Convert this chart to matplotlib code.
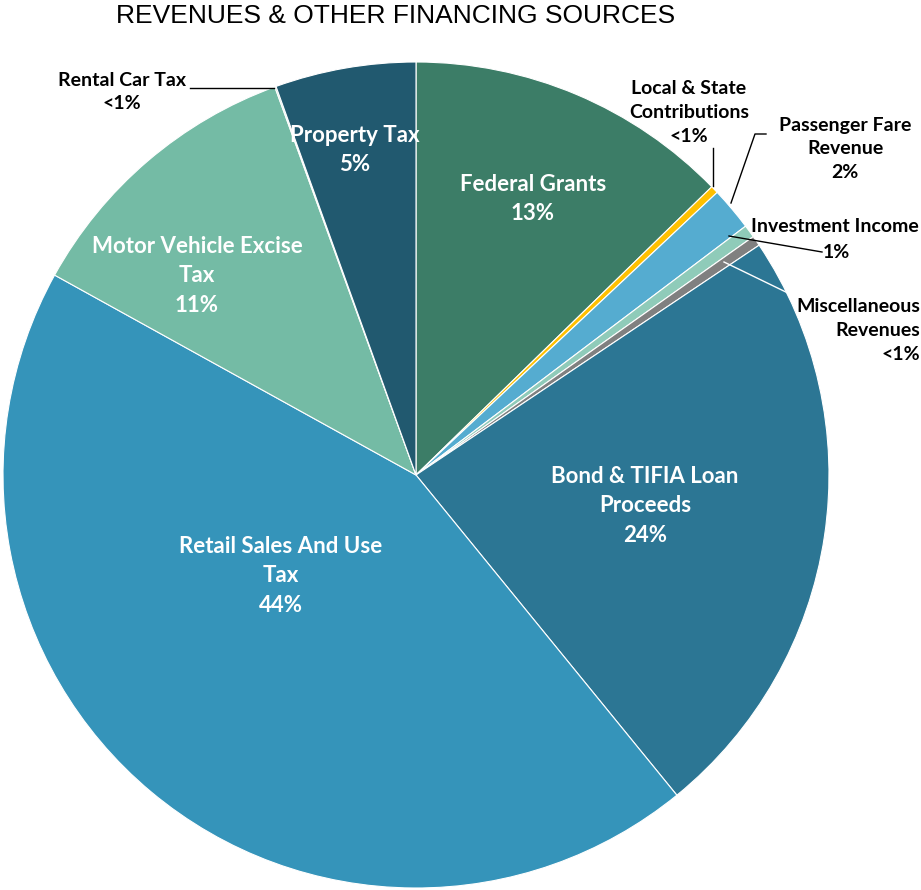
import matplotlib
matplotlib.use("Agg")
import matplotlib.pyplot as plt

# slice data, clockwise from 12 o'clock
labels = ["Federal Grants", "Local & State Contributions", "Passenger Fare Revenue",
          "Investment Income", "Miscellaneous Revenues", "Bond & TIFIA Loan Proceeds",
          "Retail Sales And Use Tax", "Motor Vehicle Excise Tax", "Rental Car Tax", "Property Tax"]
shares = [12.7, 0.3, 1.7, 0.5, 0.4, 23.5, 43.9, 11.4, 0.05, 5.5]
colors = ["#3c7d67", "#ffc000", "#55acd0", "#8fcbb9", "#808080", "#2c7694",
          "#3594ba", "#74bba5", "#5aa58e", "#21596f"]

W, H = 921, 890
fig = plt.figure(figsize=(W / 100, H / 100), dpi=100)
ax = fig.add_axes([0, 0, 1, 1])

# pie in pixel coords (y up)
cx, cy, r = 416, H - 475, 413
ax.pie(shares, colors=colors, startangle=90, counterclock=False, center=(cx, cy),
       radius=r, wedgeprops=dict(edgecolor="white", linewidth=0.8), frame=True)
ax.set_xlim(0, W)
ax.set_ylim(0, H)
ax.set_aspect("equal")
ax.axis("off")

fam = ["Lato", "DejaVu Sans"]


def txt(x, y, s, color="white", size=16, ha="center", ls=1.5):
    ax.text(x, H - y, s, color=color, fontsize=size, fontweight="bold", ha=ha,
            va="center", family=fam, linespacing=ls)


def line(xs, ys, color="black"):
    ax.plot(xs, [H - v for v in ys], color=color, lw=1)


# inside labels
txt(355, 150, "Property Tax\n5%")
txt(533, 199, "Federal Grants\n13%")
txt(197, 276, "Motor Vehicle Excise\nTax\n11%")
txt(281, 576, "Retail Sales And Use\nTax\n44%")
txt(645, 506, "Bond & TIFIA Loan\nProceeds\n24%")

# outside labels
small = 14
txt(122, 92, "Rental Car Tax\n<1%", color="black", size=small, ls=1.4)
line([190, 274], [88, 88])
txt(689, 113, "Local & State\nContributions\n<1%", color="black", size=small, ls=1.5)
line([713, 713], [186, 148])
txt(845, 149, "Passenger Fare\nRevenue\n2%", color="black", size=small, ls=1.5)
line([731, 755, 766], [203, 134, 134])
txt(751, 227, "Investment Income", color="black", size=small, ha="left")
txt(836, 253, "1%", color="black", size=small)
line([729, 822], [236, 252])
txt(920, 330, "Miscellaneous\nRevenues\n<1%", color="black", size=small, ha="right", ls=1.5)
line([724, 792], [262, 295], color="white")

ax.text(396, H - 16, "REVENUES & OTHER FINANCING SOURCES", fontsize=19, ha="center",
        va="center", family=["Liberation Sans", "DejaVu Sans"])

fig.savefig("out.png", dpi=100)
